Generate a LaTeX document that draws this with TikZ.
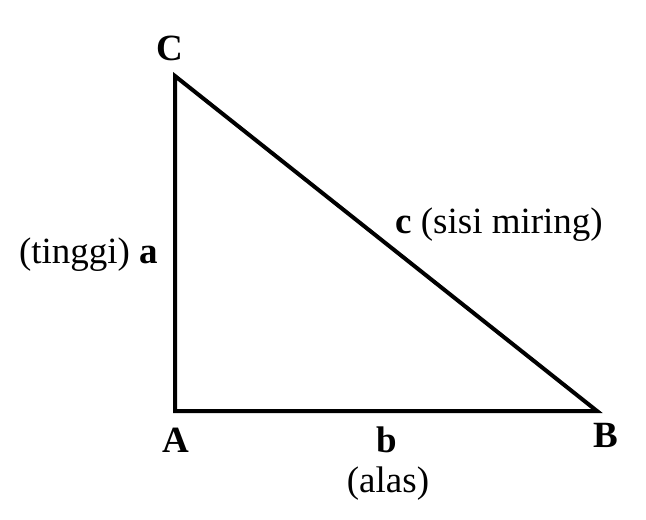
\documentclass[tikz,border=0pt]{standalone}
\usepackage{fontspec}
\setmainfont{Liberation Serif}
\begin{document}
\begin{tikzpicture}[x=1pt,y=-1pt,
  edge/.style={line width=4pt,line join=miter},
  lbl/.style={anchor=base,inner sep=0pt,font=\fontsize{37}{40}\selectfont}]
\useasboundingbox (0,0) rectangle (646,520);
\coordinate (A) at (175,411);
\coordinate (B) at (597,411);
\coordinate (C) at (175,76);
\draw[edge] (A) -- (B) -- (C) -- cycle;
\node[lbl] (lC) at (170,60) {\textbf{C}};
\node[lbl] (lA) at (176,452) {\textbf{A}};
\node[lbl] (lB) at (606,447) {\textbf{B}};
\node[lbl,anchor=base east] (la) at (158,263) {(tinggi) \textbf{a}};
\node[lbl,anchor=base west] (lc) at (395,233) {\textbf{c} (sisi miring)};
\node[lbl] (lb) at (387,452) {\textbf{b}};
\node[lbl] (lalas) at (388,492) {(alas)};
\end{tikzpicture}
\end{document}
